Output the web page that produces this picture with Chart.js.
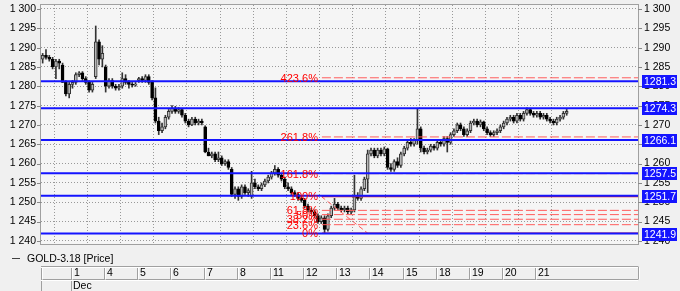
<!DOCTYPE html>
<html>
<head>
<meta charset="utf-8">
<script src="https://cdn.jsdelivr.net/npm/chart.js@4.4.1/dist/chart.umd.min.js"></script>
<style>
  html, body { margin: 0; padding: 0; background: #f0f0f0; }
  canvas { display: block; }
</style>
</head>
<body>
<canvas id="goldChart" width="680" height="291"></canvas>
<script>
// Datos de entrada

const seriesName = "GOLD-3.18 [Price]";
const monthLabel = "Dec";
const dayLabels = ["1", "4", "5", "6", "7", "8", "11", "12", "13", "14", "15", "18", "19", "20", "21"];
// index of the first bar of every day (Nov 30 is the partial day before "1")
const dayStarts = [9, 19, 29, 39, 49, 59, 69, 79, 89, 99, 109, 119, 129, 139, 149];
const priceTicks = [1240, 1245, 1250, 1255, 1260, 1265, 1270, 1275, 1280, 1285, 1290, 1295, 1300];
const priceMin = 1239.2;
const priceMax = 1301.03;
const barSlots = 180;

const opens = [
  1287, 1288, 1287.5, 1287, 1285, 1286.5, 1285.5, 1281, 1278,
  1280.5, 1281, 1283, 1283.5, 1282, 1281, 1279, 1282.5, 1291.5, 1287,
  1285, 1280, 1281.5, 1280, 1279.5, 1280, 1282, 1281, 1280.5, 1280.3,
  1281.5, 1282, 1281.5, 1282.5, 1281, 1277, 1271, 1268.5, 1269.5, 1272,
  1273.5, 1274.3, 1273.5, 1274, 1272.5, 1271, 1270, 1271.5, 1270.5, 1271,
  1269.5, 1263, 1262, 1262.5, 1261, 1261.5, 1260, 1260.5, 1258.5, 1252,
  1253.5, 1251.5, 1254, 1252.5, 1251.5, 1255, 1254, 1253.5, 1254.5, 1255.5,
  1256.5, 1257.5, 1258.5, 1257, 1256, 1254, 1253.5, 1252.5, 1252, 1251,
  1250.5, 1249, 1248, 1247.5, 1246.5, 1245, 1246, 1243, 1246.5, 1248.5,
  1249.5, 1248.5, 1248, 1248.5, 1247.5, 1248, 1251.5, 1251, 1253.5, 1256,
  1262.5, 1263.5, 1262, 1263.5, 1262.5, 1263.8, 1259, 1258.5, 1260.5, 1259.5,
  1262.5, 1264, 1265.5, 1265, 1266, 1269, 1264, 1263, 1263.5, 1264.5,
  1264, 1265.5, 1265, 1266.5, 1265.5, 1267.5, 1268.5, 1270, 1269, 1267.5,
  1268.5, 1270.5, 1271, 1270, 1270.8, 1269, 1268, 1267.5, 1268, 1268.5,
  1269.5, 1270.5, 1271.5, 1272, 1271, 1272.5, 1271.5, 1273, 1274, 1273,
  1272.5, 1273, 1272, 1272.5, 1271.5, 1271, 1270.5, 1271.5, 1272, 1273
];
const highs = [
  1288.5, 1289.5, 1288, 1287.5, 1287, 1287, 1286, 1281.5, 1281,
  1281.5, 1283.5, 1283.8, 1283.8, 1282.5, 1281.5, 1281, 1295.6, 1292, 1290.5,
  1285.5, 1282, 1282, 1280.5, 1280.5, 1283.5, 1283, 1281.5, 1281, 1281,
  1282.3, 1282.5, 1283, 1283, 1281.5, 1279.6, 1272, 1270.5, 1272.5, 1274,
  1275, 1274.8, 1274.5, 1274.3, 1273, 1271.5, 1272, 1272, 1271.5, 1271.5,
  1269.8, 1264, 1263, 1263, 1263, 1262, 1261, 1261, 1259, 1254,
  1254, 1254.5, 1254.5, 1253.5, 1258, 1256, 1254.5, 1255, 1256, 1257,
  1258, 1259.5, 1259, 1257.5, 1256.5, 1255, 1254, 1253, 1252.5, 1251.5,
  1251, 1249.5, 1248.5, 1248, 1247, 1246.5, 1246.5, 1247, 1249, 1251,
  1250, 1249, 1249, 1249, 1248.5, 1257, 1252.5, 1254, 1256.5, 1263.5,
  1264, 1264, 1264, 1264, 1264.3, 1264, 1260, 1261, 1261.5, 1263,
  1264.5, 1266, 1266.5, 1266.5, 1274.3, 1269.5, 1264.5, 1264, 1265, 1265,
  1266, 1266, 1267, 1267, 1268, 1269, 1270.5, 1270.5, 1269.5, 1269,
  1271, 1271.5, 1271.5, 1271.3, 1271, 1269.5, 1268.5, 1268.5, 1269, 1270,
  1271, 1272, 1272.5, 1272.5, 1273, 1273, 1273.5, 1274.4, 1274.3, 1273.5,
  1273.5, 1273.5, 1273, 1273, 1272, 1271.5, 1272, 1272.5, 1273.5, 1274
];
const lows = [
  1286, 1287, 1286.5, 1284.5, 1282, 1284.5, 1281, 1277.5, 1277,
  1279.5, 1280.5, 1282.5, 1281.5, 1280.5, 1278.5, 1278.5, 1282, 1285.5, 1285,
  1278.5, 1279.5, 1279.5, 1279, 1279, 1279.5, 1280.5, 1279.5, 1279.8, 1280,
  1281, 1281, 1281, 1280.5, 1276.5, 1270.5, 1267.5, 1268, 1269, 1271.5,
  1273, 1273, 1273, 1272, 1270.5, 1269.5, 1269.8, 1270, 1270, 1270,
  1262.8, 1262, 1261.5, 1260.5, 1260.5, 1259.5, 1259.5, 1258.5, 1251.5, 1251,
  1250.5, 1251, 1252, 1251.5, 1251, 1253.5, 1253, 1253, 1254, 1255,
  1256, 1257, 1256.5, 1255.5, 1253.5, 1253, 1252, 1251.5, 1250.5, 1250,
  1248.5, 1247.5, 1247, 1246, 1244.5, 1244.5, 1241.9, 1242.5, 1246, 1248,
  1248, 1247.5, 1247.5, 1247, 1247, 1247.5, 1250.5, 1250.5, 1253, 1252.5,
  1262, 1261.5, 1261.5, 1262, 1262, 1258.5, 1258, 1258, 1259, 1259,
  1262, 1263.5, 1264.5, 1264.5, 1265, 1263, 1262.5, 1262.5, 1263, 1263.5,
  1263.5, 1264.5, 1264.5, 1263, 1265, 1267, 1268, 1268.5, 1267, 1267,
  1268, 1270, 1269.5, 1269.5, 1268.5, 1267.5, 1267, 1267, 1267.5, 1268,
  1269, 1270, 1271, 1270.5, 1270.5, 1271, 1271, 1272.5, 1272.5, 1272,
  1272, 1271.5, 1271.5, 1271, 1270.5, 1270, 1270, 1271, 1271.5, 1272.5
];
const closes = [
  1288, 1287.5, 1287, 1285, 1286.5, 1286, 1281, 1278, 1280.5,
  1281, 1283, 1283.5, 1282, 1281, 1279, 1280.5, 1291.5, 1287, 1288.5,
  1280, 1281.5, 1280, 1279.5, 1280, 1282, 1281, 1280.5, 1280.3, 1280.5,
  1282, 1281.5, 1282.5, 1281, 1277, 1271, 1268.5, 1269.5, 1272, 1273.5,
  1274.3, 1273.5, 1274, 1272.5, 1271, 1270, 1271.5, 1270.5, 1271, 1270.5,
  1263, 1262, 1262.5, 1261, 1261.5, 1260, 1260.5, 1259, 1252, 1253.5,
  1251.5, 1254, 1252.5, 1253, 1255, 1254, 1253.5, 1254.5, 1255.5, 1256.5,
  1257.5, 1258.5, 1257, 1256, 1254, 1253.5, 1252.5, 1252, 1251, 1250.5,
  1249, 1248, 1247.5, 1246.5, 1245, 1246, 1243, 1246.5, 1248.5, 1249.5,
  1248.5, 1248, 1248.5, 1247.5, 1248, 1251.5, 1251, 1253.5, 1256, 1262.5,
  1263.5, 1262, 1263.5, 1262.5, 1263.8, 1259, 1258.5, 1260.5, 1259.5, 1262.5,
  1264, 1265.5, 1265, 1266, 1269, 1264, 1263, 1263.5, 1264.5, 1264,
  1265.5, 1265, 1266.5, 1265.5, 1267.5, 1268.5, 1270, 1269, 1267.5, 1268.5,
  1270.5, 1271, 1270, 1270.8, 1269, 1268, 1267.5, 1268, 1268.5, 1269.5,
  1270.5, 1271.5, 1272, 1271, 1272.5, 1271.5, 1273, 1274, 1273, 1272.5,
  1273, 1272, 1272.5, 1271.5, 1271, 1270.5, 1271.5, 1272, 1273, 1273.5
];

// horizontal levels (blue) with their value boxes on the right axis
const levels = [1281.3, 1274.3, 1266.1, 1257.5, 1251.7, 1241.9];

// fibonacci tool
const fibLabels = ["0%", "23.6%", "38.2%", "50%", "61.8%", "100%", "161.8%", "261.8%", "423.6%"];
const fibPrices = [1242, 1244.2, 1245.6, 1246.8, 1247.9, 1251.5, 1257.4, 1266.9, 1282.2];
const fibStart = 84.7;
const fibTrendX = [84.5, 98.5];
const fibTrendY = [1251.5, 1242];

// Estilos

const FONT = "'Liberation Sans', Arial, sans-serif";
const blue = "#1414ff";
const fibRed = "#ff5c5c";
const gridColor = "#999999";

Chart.defaults.font.family = FONT;
Chart.defaults.font.size = 10.5;
Chart.defaults.color = "#000";

function formatPrice(v) {
  return String(v).replace(/^(\d)(\d{3})$/, "$1 $2");
}

let datasets = [];

levels.forEach((lv) => {
  datasets.push({
    type: "line",
    data: [{ x: 0, y: lv }, { x: barSlots, y: lv }],
    borderColor: blue,
    borderWidth: 2,
    pointRadius: 0,
    order: 0,
  });
});

fibPrices.forEach((p, i) => {
  let solid = fibLabels[i] === "0%" || fibLabels[i] === "100%";
  datasets.push({
    type: "line",
    data: [{ x: fibStart, y: p }, { x: barSlots, y: p }],
    borderColor: solid ? "#e02020" : fibRed,
    borderWidth: solid ? 1.5 : 1,
    borderDash: solid ? [] : [9, 3],
    pointRadius: 0,
    order: 1,
  });
});

datasets.push({
  type: "line",
  data: fibTrendX.map((x, i) => ({ x: x, y: fibTrendY[i] })),
  borderColor: fibRed,
  borderWidth: 1,
  borderDash: [5, 3],
  pointRadius: 0,
  order: 1,
});

// wicks
datasets.push({
  type: "bar",
  data: lows.map((l, i) => ({ x: i + 0.5, y: [l, highs[i]] })),
  barThickness: 1,
  backgroundColor: "#333",
  grouped: false,
  order: 3,
});

// bodies
datasets.push({
  type: "bar",
  data: opens.map((o, i) => ({ x: i + 0.5, y: [o, closes[i]] })),
  barThickness: 3,
  minBarLength: 1,
  grouped: false,
  borderSkipped: false,
  borderWidth: 1,
  backgroundColor: (ctx) => (closes[ctx.dataIndex] >= opens[ctx.dataIndex] ? "#b8b8b8" : "#000"),
  borderColor: (ctx) => (closes[ctx.dataIndex] >= opens[ctx.dataIndex] ? "#333" : "#000"),
  order: 2,
});

const backgroundPlugin = {
  id: "background",
  beforeDraw(chart) {
    const { ctx, chartArea: a } = chart;
    ctx.save();
    ctx.fillStyle = "#f0f0f0";
    ctx.fillRect(0, 0, chart.width, chart.height);
    ctx.fillStyle = "#f5f5f5";
    ctx.fillRect(a.left, a.top, a.right - a.left, a.bottom - a.top);
    ctx.restore();
  },
  afterDatasetsDraw(chart) {
    // fibonacci labels
    const { ctx } = chart;
    const x = chart.scales.x.getPixelForValue(fibStart) - 4;
    ctx.save();
    ctx.font = "11px " + FONT;
    ctx.fillStyle = "#ff0000";
    ctx.textAlign = "right";
    ctx.textBaseline = "middle";
    fibPrices.forEach((p, i) => {
      ctx.fillText(fibLabels[i], x, chart.scales.y.getPixelForValue(p) + 1);
    });
    ctx.restore();
  },
  afterDraw(chart) {
    const { ctx, chartArea: a } = chart;
    const yScale = chart.scales.y;
    const xScale = chart.scales.x;
    ctx.save();

    // plot border
    ctx.strokeStyle = "#a0a0a0";
    ctx.lineWidth = 1;
    ctx.strokeRect(a.left - 0.5, a.top - 0.5, a.right - a.left + 1, a.bottom - a.top + 1);

    // tick marks
    ctx.strokeStyle = "#888";
    ctx.beginPath();
    priceTicks.forEach((t) => {
      let y = Math.round(yScale.getPixelForValue(t)) + 0.5;
      ctx.moveTo(a.left - 4, y);
      ctx.lineTo(a.left, y);
      ctx.moveTo(a.right, y);
      ctx.lineTo(a.right + 4, y);
    });
    ctx.stroke();

    // value boxes on the right axis
    ctx.font = "10.5px " + FONT;
    ctx.textBaseline = "middle";
    ctx.textAlign = "left";
    levels.forEach((lv) => {
      let y = Math.round(yScale.getPixelForValue(lv));
      ctx.fillStyle = blue;
      ctx.fillRect(a.right + 4, y - 6, 35, 13);
      ctx.fillStyle = "#fff";
      ctx.fillText(lv.toFixed(1), a.right + 6, y + 1);
    });

    // legend
    ctx.strokeStyle = "#404040";
    ctx.beginPath();
    ctx.moveTo(12, 258.5);
    ctx.lineTo(20, 258.5);
    ctx.stroke();
    ctx.fillStyle = "#000";
    ctx.fillText(seriesName, 27, 259);

    // date table
    const top = 266.5;
    const mid = 279.5;
    const bottom = 292;
    const cuts = [a.left].concat(dayStarts.map((d) => Math.round(xScale.getPixelForValue(d))), [a.right]);
    ctx.strokeStyle = "#a0a0a0";
    ctx.beginPath();
    ctx.moveTo(a.left, top);
    ctx.lineTo(a.right, top);
    ctx.moveTo(a.left, mid);
    ctx.lineTo(a.right, mid);
    cuts.forEach((cx) => {
      ctx.moveTo(cx + 0.5, top);
      ctx.lineTo(cx + 0.5, mid);
    });
    ctx.moveTo(cuts[0] + 0.5, mid);
    ctx.lineTo(cuts[0] + 0.5, bottom);
    ctx.moveTo(cuts[1] + 0.5, mid);
    ctx.lineTo(cuts[1] + 0.5, bottom);
    ctx.stroke();

    ctx.strokeStyle = "#ffffff";
    ctx.beginPath();
    ctx.moveTo(a.left, top + 1);
    ctx.lineTo(a.right, top + 1);
    ctx.moveTo(a.left, mid + 1);
    ctx.lineTo(a.right, mid + 1);
    cuts.forEach((cx) => {
      ctx.moveTo(cx + 1.5, top + 1);
      ctx.lineTo(cx + 1.5, mid);
    });
    ctx.stroke();

    ctx.fillStyle = "#000";
    dayLabels.forEach((lbl, i) => {
      ctx.fillText(lbl, cuts[i + 1] + 3, 273.5);
    });
    ctx.fillText(monthLabel, cuts[1] + 2, 286);

    ctx.restore();
  },
};

const config = {
  type: "bar",
  data: { datasets: datasets },
  options: {
    responsive: false,
    animation: false,
    devicePixelRatio: 1,
    layout: { padding: { top: 5, bottom: 47, left: 0, right: 0 } },
    plugins: { legend: { display: false }, tooltip: { enabled: false } },
    scales: {
      x: {
        type: "linear",
        min: 0,
        max: barSlots,
        offset: false,
        ticks: { display: false },
        grid: { color: gridColor, drawTicks: false },
        border: { display: false, dash: [1, 2] },
        afterBuildTicks: (s) => {
          s.ticks = dayStarts.map((v) => ({ value: v }));
        },
        afterFit: (s) => {
          s.height = 0;
          s.paddingLeft = 0;
          s.paddingRight = 0;
        },
      },
      y: {
        position: "left",
        min: priceMin,
        max: priceMax,
        ticks: { autoSkip: false, padding: 5, callback: (v) => formatPrice(v) },
        grid: { color: gridColor, drawTicks: false },
        border: { display: false, dash: [1, 2] },
        afterBuildTicks: (s) => {
          s.ticks = priceTicks.map((v) => ({ value: v }));
        },
        afterFit: (s) => {
          s.width = 41;
          s.paddingTop = 0;
          s.paddingBottom = 0;
        },
      },
      y2: {
        position: "right",
        min: priceMin,
        max: priceMax,
        ticks: { autoSkip: false, padding: 6, callback: (v) => formatPrice(v) },
        grid: { display: false, drawTicks: false },
        border: { display: false },
        afterBuildTicks: (s) => {
          s.ticks = priceTicks.map((v) => ({ value: v }));
        },
        afterFit: (s) => {
          s.width = 42;
          s.paddingTop = 0;
          s.paddingBottom = 0;
        },
      },
    },
  },
  plugins: [backgroundPlugin],
};

const goldChart = new Chart(document.getElementById("goldChart").getContext("2d"), config);
</script>
</body>
</html>
